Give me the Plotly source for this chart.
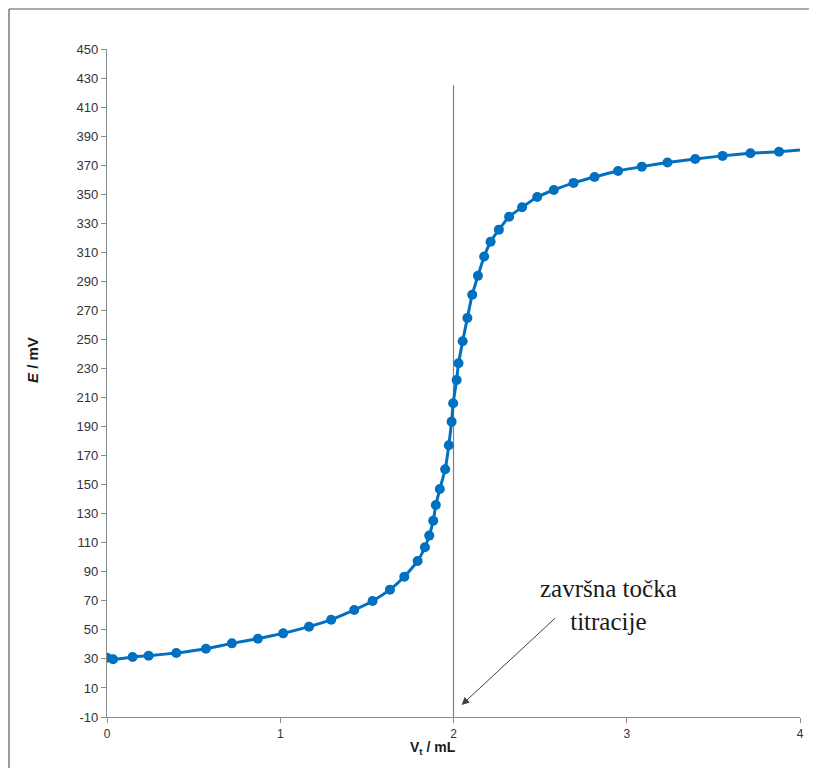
import plotly.graph_objects as go

# Titration data
vol_ml = [0.0, 0.035, 0.148, 0.24, 0.40, 0.571, 0.721, 0.871, 1.017, 1.166, 1.294, 1.427,
          1.533, 1.633, 1.716, 1.793, 1.835, 1.860, 1.883, 1.898, 1.921, 1.952, 1.973,
          1.989, 1.998, 2.018, 2.029, 2.053, 2.080, 2.108, 2.141, 2.177, 2.214, 2.262,
          2.321, 2.396, 2.483, 2.579, 2.693, 2.814, 2.950, 3.087, 3.235, 3.395, 3.553,
          3.714, 3.879, 4.0]
e_mv = [30.8, 29.8, 31.3, 32.2, 34.1, 37.0, 40.7, 43.9, 47.6, 52.2, 57.0, 63.7,
        69.9, 77.7, 86.6, 97.4, 106.9, 114.9, 125.2, 136.0, 147.0, 160.6, 177.1,
        193.4, 206.0, 222.1, 233.6, 248.7, 264.8, 280.8, 293.8, 307.1, 317.3, 325.6,
        334.5, 341.0, 348.1, 352.9, 357.8, 361.9, 366.0, 369.0, 371.8, 374.3, 376.4,
        378.2, 379.3, 380.5]

end_point_x = 2.0
end_line_top = 425
y_ticks = list(range(-10, 451, 20))
y_tick_labels = [str(v) for v in y_ticks]
x_ticks = [0, 1, 2, 3, 4]
x_tick_labels = [str(v) for v in x_ticks]

annot_text = "završna točka<br>titracije"
arrow_tip = (2.047, -1.7)
arrow_tail = (2.595, 59.0)

blue = "#0070C0"

# plot area geometry (page has an 8px body margin)
PW, PH = 693, 668
fig = go.Figure()
fig.add_trace(go.Scatter(x=vol_ml, y=e_mv, mode="lines",
                         line=dict(color=blue, width=3, shape="spline", smoothing=0.4),
                         hoverinfo="skip", showlegend=False))
fig.add_trace(go.Scatter(x=vol_ml[:-1], y=e_mv[:-1], mode="markers",
                         marker=dict(color=blue, size=10),
                         showlegend=False))

fig.add_shape(type="line", x0=end_point_x, x1=end_point_x, y0=-10, y1=end_line_top,
              xref="x", yref="y", line=dict(color="#7f7f7f", width=1.2), layer="below")

# outer frame (left and top edges visible in the reference)
fx0 = (9 - 107) / PW
fy_top = (717 - 9) / PH
fy_bot = (717 - 800) / PH
fx_right = (860 - 107) / PW
fig.add_shape(type="line", xref="paper", yref="paper", x0=fx0, x1=fx0, y0=fy_bot, y1=fy_top,
              line=dict(color="#595959", width=1.2))
fig.add_shape(type="line", xref="paper", yref="paper", x0=fx0, x1=fx_right, y0=fy_top, y1=fy_top,
              line=dict(color="#595959", width=1.2))

fig.add_annotation(x=arrow_tip[0], y=arrow_tip[1], ax=arrow_tail[0], ay=arrow_tail[1],
                   xref="x", yref="y", axref="x", ayref="y", text="",
                   showarrow=True, arrowhead=2, arrowsize=1.5, arrowwidth=1,
                   arrowcolor="#404040")
fig.add_annotation(x=(608 - 107) / PW, y=(717 - 605) / PH, xref="paper", yref="paper",
                   xanchor="center", yanchor="middle",
                   text=annot_text, showarrow=False,
                   font=dict(family="Liberation Serif", size=25, color="#1a1a1a"))

fig.add_annotation(x=(433 - 107) / PW, y=(717 - 748) / PH, xref="paper", yref="paper",
                   xanchor="center", yanchor="middle",
                   text="<b>V<sub>t</sub> / mL</b>", showarrow=False,
                   font=dict(family="Liberation Sans", size=14, color="#1a1a1a"))
fig.add_annotation(x=(32 - 107) / PW, y=(717 - 360) / PH, xref="paper", yref="paper",
                   xanchor="center", yanchor="middle", textangle=-90,
                   text="<b><i>E</i> / mV</b>", showarrow=False,
                   font=dict(family="Liberation Sans", size=15, color="#1a1a1a"))

fig.update_layout(
    width=801, height=760,
    margin=dict(l=99, r=9, t=41, b=51),
    paper_bgcolor="white", plot_bgcolor="white",
    font=dict(family="Liberation Sans", color="#333333"),
    showlegend=False,
)
fig.update_xaxes(range=[0, 4], tickvals=x_ticks, ticktext=x_tick_labels,
                 showgrid=False, zeroline=False, automargin=False,
                 showline=True, linecolor="#8c8c8c", linewidth=1.2,
                 ticks="outside", ticklen=5, tickcolor="#8c8c8c",
                 tickfont=dict(size=12, color="#333333"))
fig.update_yaxes(range=[-10, 450], tickvals=y_ticks, ticktext=y_tick_labels,
                 showgrid=False, zeroline=False, automargin=False,
                 showline=True, linecolor="#8c8c8c", linewidth=1.2,
                 ticks="outside", ticklen=5, tickcolor="#8c8c8c",
                 tickfont=dict(size=13, color="#333333"))

fig.write_html("out.html")
